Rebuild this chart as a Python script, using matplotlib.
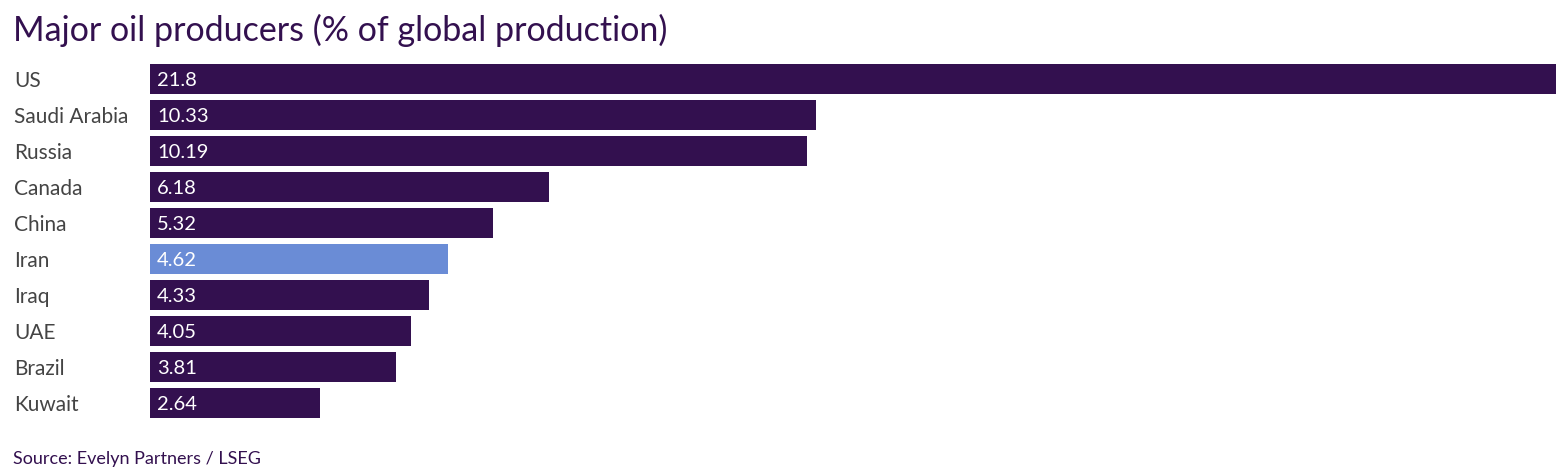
import matplotlib
matplotlib.use("Agg")
import matplotlib.pyplot as plt

plt.rcParams['font.family'] = ['Lato', 'DejaVu Sans']

countries = ["US", "Saudi Arabia", "Russia", "Canada", "China", "Iran", "Iraq", "UAE", "Brazil", "Kuwait"]
values = [21.8, 10.33, 10.19, 6.18, 5.32, 4.62, 4.33, 4.05, 3.81, 2.64]
value_labels = ["21.8", "10.33", "10.19", "6.18", "5.32", "4.62", "4.33", "4.05", "3.81", "2.64"]
highlight = "Iran"

dark = "#33104f"
light = "#6a8cd6"
colors = [light if c == highlight else dark for c in countries]

fig = plt.figure(figsize=(15.64, 4.75), dpi=100)
ax = fig.add_axes([150 / 1564, 1 - 421 / 475, 1406 / 1564, 360 / 475])

y = range(len(countries))
ax.barh(y, values, height=30 / 36, color=colors)
ax.set_xlim(0, max(values))
ax.set_ylim(len(countries) - 0.5, -0.5)

for i, (v, lab) in enumerate(zip(values, value_labels)):
    ax.annotate(lab, (0, i), xytext=(5, 0), textcoords="offset points",
                va="center_baseline", ha="left", color="white", fontsize=14.5)

ax.set_xticks([])
ax.set_yticks(list(y))
ax.set_yticklabels(countries, fontsize=15, color="#444444")
ax.tick_params(axis="y", length=0, pad=0)
for lbl in ax.get_yticklabels():
    lbl.set_horizontalalignment("left")
    lbl.set_x(-136 / 1406)
for s in ax.spines.values():
    s.set_visible(False)

fig.text(13 / 1564, 1 - 30 / 475, "Major oil producers (% of global production)",
         fontsize=24.5, color=dark, va="center", ha="left")
fig.text(13 / 1564, 1 - 459 / 475, "Source: Evelyn Partners / LSEG",
         fontsize=13, color=dark, va="center", ha="left")

fig.savefig("out.png", dpi=100)
